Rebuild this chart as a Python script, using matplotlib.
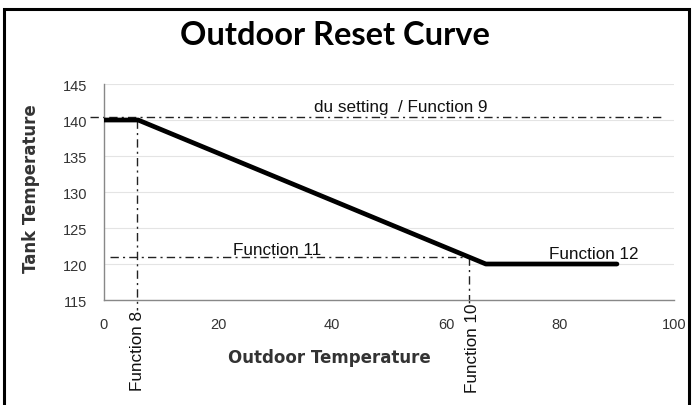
import matplotlib.pyplot as plt
from matplotlib.patches import Rectangle

# reset curve break points (outdoor temp, tank temp)
outdoor = [0, 6, 67, 90]
tank = [140, 140, 120, 120]

x_ticks = [0, 20, 40, 60, 80, 100]
y_ticks = [115, 120, 125, 130, 135, 140, 145]

# setting markers
func9_level = 140.4
func11_level = 121
func8_x = 5.8
func10_x = 64

fig = plt.figure(figsize=(6.93, 4.06), dpi=100)
ax = fig.add_axes([0.150, 0.2586, 0.8225, 0.532])

# page frame around the figure
fig.patches.append(Rectangle((0.006, -0.1), 0.988, 1.076, transform=fig.transFigure,
                             fill=False, edgecolor='black', linewidth=2.2))

ax.set_xlim(0, 100)
ax.set_ylim(115, 145)
ax.set_xticks(x_ticks)
ax.set_yticks(y_ticks)
ax.tick_params(length=0, labelsize=10.5, labelcolor='#333333', pad=12)
for lab in ax.get_xticklabels() + ax.get_yticklabels():
    lab.set_family('Liberation Sans')
ax.grid(axis='y', color='#e4e4e4', linewidth=0.8)
ax.set_axisbelow(True)
for s in ['top', 'right']:
    ax.spines[s].set_visible(False)
for s in ['left', 'bottom']:
    ax.spines[s].set_color('#888888')
    ax.spines[s].set_linewidth(1.0)

# the curve itself
ax.plot(outdoor, tank, color='black', linewidth=3.4, solid_capstyle='round', zorder=3)

# dash-dot reference lines
dd = dict(color='#222222', linewidth=1.0, linestyle=(0, (6, 3, 1.5, 3)), clip_on=False)
ax.plot([-2.5, 98.5], [func9_level, func9_level], **dd)
ax.plot([1, func10_x], [func11_level, func11_level], **dd)
ax.plot([func8_x, func8_x], [140, 113.6], **dd)
ax.plot([func10_x, func10_x], [func11_level, 114.2], **dd)

txt = dict(family='Liberation Sans', fontsize=12.3, color='#111111')
ax.text(52, 141.3, 'du setting  / Function 9', ha='center', va='baseline', **txt)
ax.text(30.4, 121.35, 'Function 11', ha='center', va='baseline', **txt)
ax.text(86, 120.8, 'Function 12', ha='center', va='baseline', **txt)
ax.text(func8_x, 113.6, 'Function 8', rotation=90, ha='center', va='top',
        clip_on=False, **txt)
ax.text(func10_x + 0.6, 114.6, 'Function 10', rotation=90, ha='center', va='top',
        clip_on=False, **txt)

ax.set_xlabel('Outdoor Temperature', family='DejaVu Sans', fontweight='bold',
              fontsize=12, color='#333333')
ax.xaxis.set_label_coords(0.395, -0.264)
ax.get_xaxis().label.set_va('center')
ax.set_ylabel('Tank Temperature', family='DejaVu Sans', fontweight='bold',
              fontsize=12, color='#333333')
ax.yaxis.set_label_coords(-0.128, 0.519)
ax.get_yaxis().label.set_va('center')

fig.text(0.484, 0.912, 'Outdoor Reset Curve', ha='center', va='center',
         family='Lato', fontweight='bold', fontsize=23.5, color='black')

fig.savefig('out.png', dpi=100)
